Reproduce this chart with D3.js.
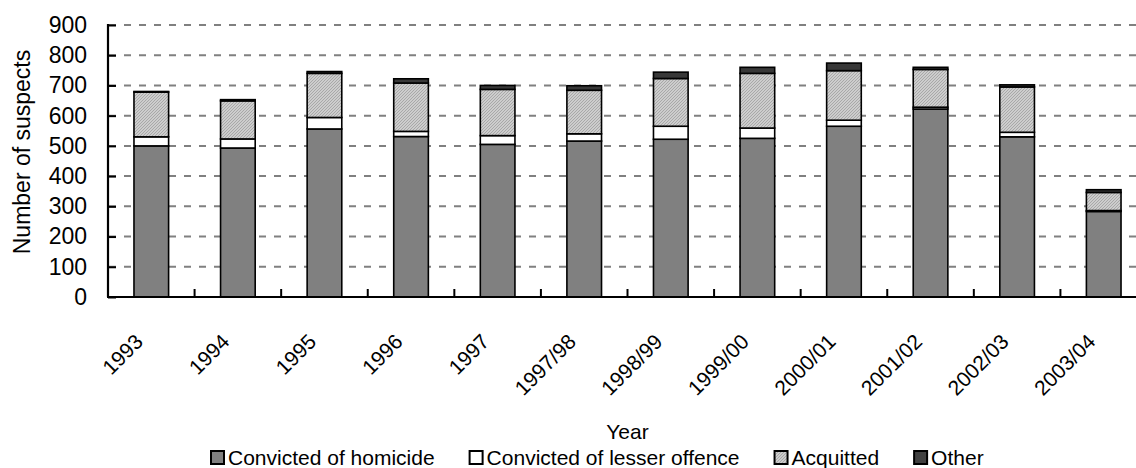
<!DOCTYPE html>
<html><head><meta charset="utf-8">
<script src="https://cdn.jsdelivr.net/npm/d3@7/dist/d3.min.js"></script>
<style>
html,body{margin:0;padding:0;background:#fff;}
svg{display:block;font-family:"Liberation Sans",Arial,sans-serif;}
</style></head>
<body>
<svg id="chart" width="1136" height="468"></svg>
<script>
const categories = ["1993","1994","1995","1996","1997","1997/98","1998/99","1999/00","2000/01","2001/02","2002/03","2003/04"];
const homicide  = [500,493,556,531,505,516,522,525,565,622,530,283];
const lesser    = [30,30,38,17,29,24,43,34,20,6,15,3];
const acquitted = [148,126,146,160,153,144,158,181,164,125,150,60];
const other     = [2,4,6,14,13,15,21,20,25,7,7,9];
const seriesNames = ["Convicted of homicide","Convicted of lesser offence","Acquitted","Other"];
const yTicks = [0,100,200,300,400,500,600,700,800,900];

const svg = d3.select("#chart");
const defs = svg.append("defs");
const pat = defs.append("pattern").attr("id","acq").attr("patternUnits","userSpaceOnUse")
  .attr("width",3).attr("height",3);
pat.append("rect").attr("width",3).attr("height",3).attr("fill","#cdcdcd");
pat.append("rect").attr("x",0).attr("y",2).attr("width",1).attr("height",1).attr("fill","#a8a8a8");
pat.append("rect").attr("x",1).attr("y",1).attr("width",1).attr("height",1).attr("fill","#a8a8a8");
pat.append("rect").attr("x",2).attr("y",0).attr("width",1).attr("height",1).attr("fill","#a8a8a8");

const fills = ["#808080","#ffffff","url(#acq)","#383838"];
const legendFills = ["#808080","#ffffff","url(#acq)","#404040"];

const x0 = 108, x1 = 1147, yBot = 297, yTop = 25;
const x = d3.scaleBand().domain(categories).range([x0,x1]).paddingInner(0.6).paddingOuter(0.3);
const y = d3.scaleLinear().domain([0,900]).range([yBot,yTop]);

const table = categories.map((c,i)=>({cat:c, s0:homicide[i], s1:lesser[i], s2:acquitted[i], s3:other[i]}));
const stack = d3.stack().keys(["s0","s1","s2","s3"])(table);

// gridlines
svg.append("g").selectAll("line").data(yTicks.filter(t=>t>0)).join("line")
  .attr("x1",x0+1).attr("x2",1136).attr("y1",d=>y(d)).attr("y2",d=>y(d))
  .attr("stroke","#808080").attr("stroke-width",2).attr("stroke-dasharray","7,8");

// bars
const g = svg.append("g");
stack.forEach((layer,k)=>{
  g.append("g").selectAll("rect").data(layer).join("rect")
    .attr("x",d=>x(d.data.cat)).attr("width",x.bandwidth())
    .attr("y",d=>y(d[1])).attr("height",d=>Math.max(0,y(d[0])-y(d[1])))
    .attr("fill",fills[k]).attr("stroke","#000").attr("stroke-width",1.6);
});

// y axis
const yAxis = svg.append("g").attr("transform",`translate(${x0},0)`)
  .call(d3.axisLeft(y).tickValues(yTicks).tickSize(-8).tickPadding(21).tickFormat(d3.format("d")));
yAxis.select(".domain").attr("stroke","#000").attr("stroke-width",2.2).attr("d",`M0,${yTop-1}V${yBot}`);
yAxis.selectAll(".tick line").attr("stroke","#000").attr("stroke-width",2);
yAxis.selectAll("text").attr("font-size",23).attr("fill","#000").attr("font-family","Liberation Sans, Arial, sans-serif");

// x axis
const step = x.step();
const boundaries = d3.range(0,13).map(i=>x0+i*step);
svg.append("line").attr("x1",x0-1).attr("x2",1136).attr("y1",yBot).attr("y2",yBot).attr("stroke","#000").attr("stroke-width",2.2);
svg.append("g").selectAll("line").data(boundaries).join("line")
  .attr("x1",d=>d).attr("x2",d=>d).attr("y1",yBot).attr("y2",yBot-8).attr("stroke","#000").attr("stroke-width",2);
svg.append("g").selectAll("text").data(categories).join("text")
  .attr("transform",d=>`translate(${x(d)+x.bandwidth()/2-7},343) rotate(-45)`)
  .attr("text-anchor","end").attr("font-size",21).attr("fill","#000").text(d=>d);

// titles
svg.append("text").attr("transform","translate(30,152) rotate(-90)").attr("text-anchor","middle")
  .attr("font-size",23).attr("fill","#000").text("Number of suspects");
svg.append("text").attr("x",(x0+x1)/2).attr("y",439).attr("text-anchor","middle")
  .attr("font-size",21).attr("fill","#000").text("Year");

// legend
const lg = svg.append("g");
let lx = 210;
seriesNames.forEach((n,k)=>{
  lg.append("rect").attr("x",lx+1).attr("y",451).attr("width",13).attr("height",13)
    .attr("fill",legendFills[k]).attr("stroke","#000").attr("stroke-width",2);
  const t = lg.append("text").attr("x",lx+18).attr("y",465).attr("font-size",21).attr("fill","#000").text(n);
  lx += 18 + t.node().getComputedTextLength() + 34;
});
</script>
</body></html>
